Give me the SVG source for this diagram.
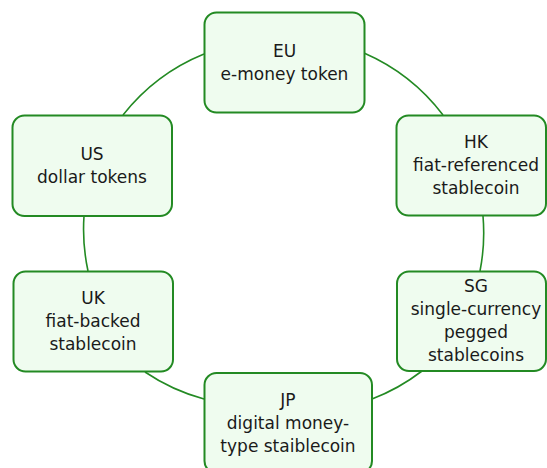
<svg xmlns="http://www.w3.org/2000/svg" width="547" height="468" viewBox="0 0 547 468">
<style>
.n{fill:#effcef;stroke:#238a23;stroke-width:2}
.c{fill:none;stroke:#238a23;stroke-width:1.6}
text{font-family:"DejaVu Sans",Verdana,sans-serif;font-size:17px;fill:#1a1a1a;text-anchor:middle}
</style>
<rect width="547" height="468" fill="#ffffff"/>
<g id="connectors">
<path class="c" d="M364,53 A198,198 0 0 1 443,115"/>
<path class="c" d="M483,216 A198,198 0 0 1 480,271"/>
<path class="c" d="M422,371 A198,198 0 0 1 372,399"/>
<path class="c" d="M204,399 A198,198 0 0 1 145,372"/>
<path class="c" d="M88,271 A198,198 0 0 1 84,216"/>
<path class="c" d="M123,115 A198,198 0 0 1 204,54"/>
</g>
<g id="EU"><rect class="n" x="204.5" y="12.5" width="160" height="100" rx="12"/><text x="284.5" y="56.5">EU</text><text x="284.5" y="79.5">e-money token</text></g>
<g id="HK"><rect class="n" x="396.5" y="115.5" width="149.5" height="100" rx="12"/><text x="476" y="148">HK</text><text x="476" y="171">fiat-referenced</text><text x="476" y="194">stablecoin</text></g>
<g id="SG"><rect class="n" x="397" y="271.5" width="149" height="99.5" rx="12"/><text x="476" y="292">SG</text><text x="476" y="315">single-currency</text><text x="476" y="338">pegged</text><text x="476" y="361">stablecoins</text></g>
<g id="JP"><rect class="n" x="204.5" y="373" width="167.5" height="100" rx="12"/><text x="288" y="406">JP</text><text x="288" y="429">digital money-</text><text x="288" y="452">type staiblecoin</text></g>
<g id="US"><rect class="n" x="12.5" y="115.5" width="159.5" height="100.5" rx="12"/><text x="92" y="159.5">US</text><text x="92" y="182.5">dollar tokens</text></g>
<g id="UK"><rect class="n" x="13.5" y="271.5" width="159.5" height="100" rx="12"/><text x="93" y="304">UK</text><text x="93" y="327">fiat-backed</text><text x="93" y="350">stablecoin</text></g>
</svg>
